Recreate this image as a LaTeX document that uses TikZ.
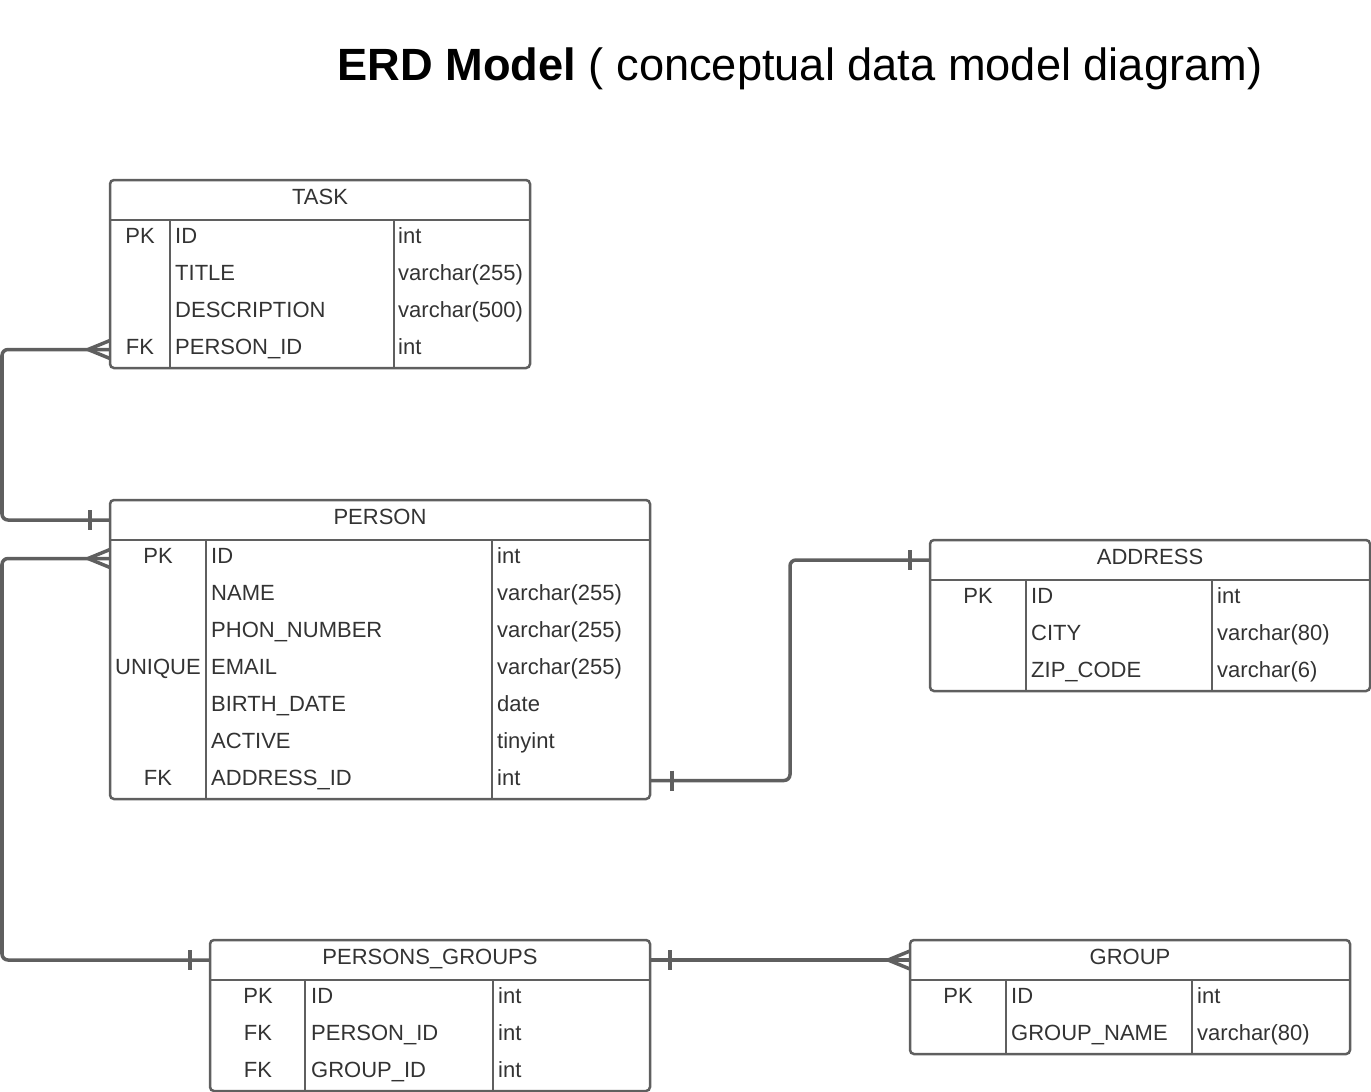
\documentclass[tikz,border=0pt]{standalone}
\usepackage{fontspec}
\setmainfont{Liberation Sans}
\usetikzlibrary{calc}

\definecolor{erdline}{HTML}{5F5F5F}
\definecolor{erdtext}{HTML}{333333}

\begin{document}
\begin{tikzpicture}[x=1pt, y=-1pt,
    tbl/.style = {draw=erdline, line width=2.5pt, rounded corners=4pt, inner sep=0pt, outer sep=0pt, anchor=north west},
    grid/.style = {draw=erdline, line width=2.5pt},
    conn/.style = {draw=erdline, line width=3.5pt, rounded corners=6pt},
    txt/.style = {text=erdtext, font=\fontsize{22}{26}\selectfont, inner sep=0pt, text height=16pt, text depth=4pt},
    cell/.style = {txt, anchor=west},
    crow/.pic = {\draw[erdline, line width=3.5pt] (-22,0) -- (0,-9) (-22,0) -- (0,9);},
    bar/.pic = {\draw[erdline, line width=3.5pt] (0,-10) -- (0,10);}]

    \useasboundingbox (0,0) rectangle (1371,1092);

    % title
    \node[font=\fontsize{45.2}{54}\selectfont, anchor=base] (title) at (800,80) {\textbf{ERD Model} ( conceptual data model diagram)};

    % TASK
    \node[tbl, minimum width=420, minimum height=188] (task) at (110,180) {};
    \draw[grid] (110,220) -- (530,220);
    \draw[grid] (170,220) -- (170,368) (394,220) -- (394,368);
    \node[txt] (task-h) at (320,198.5) {TASK};
    \foreach \k/\n/\t [count=\i] in {PK/ID/int, /TITLE/varchar(255), /DESCRIPTION/varchar(500), FK/PERSON\_ID/int} {
        \node[txt] (task-k\i) at (140,200+37*\i) {\k};
        \node[cell] (task-n\i) at (175,200+37*\i) {\n};
        \node[cell] (task-t\i) at (398,200+37*\i) {\t};
    }

    % PERSON
    \node[tbl, minimum width=540, minimum height=299] (person) at (110,500) {};
    \draw[grid] (110,540) -- (650,540);
    \draw[grid] (206,540) -- (206,799) (492,540) -- (492,799);
    \node[txt] (person-h) at (380,518.5) {PERSON};
    \foreach \k/\n/\t [count=\i] in {PK/ID/int, /NAME/varchar(255), /PHON\_NUMBER/varchar(255), UNIQUE/EMAIL/varchar(255),
        /BIRTH\_DATE/date, /ACTIVE/tinyint, FK/ADDRESS\_ID/int} {
        \node[txt] (person-k\i) at (158,520+37*\i) {\k};
        \node[cell] (person-n\i) at (211,520+37*\i) {\n};
        \node[cell] (person-t\i) at (497,520+37*\i) {\t};
    }

    % ADDRESS
    \node[tbl, minimum width=440, minimum height=151] (address) at (930,540) {};
    \draw[grid] (930,580) -- (1370,580);
    \draw[grid] (1026,580) -- (1026,691) (1212,580) -- (1212,691);
    \node[txt] (address-h) at (1150,558.5) {ADDRESS};
    \foreach \k/\n/\t [count=\i] in {PK/ID/int, /CITY/varchar(80), /ZIP\_CODE/varchar(6)} {
        \node[txt] (address-k\i) at (978,560+37*\i) {\k};
        \node[cell] (address-n\i) at (1031,560+37*\i) {\n};
        \node[cell] (address-t\i) at (1217,560+37*\i) {\t};
    }

    % PERSONS_GROUPS
    \node[tbl, minimum width=440, minimum height=151] (pg) at (210,940) {};
    \draw[grid] (210,980) -- (650,980);
    \draw[grid] (305,980) -- (305,1091) (493,980) -- (493,1091);
    \node[txt] (pg-h) at (430,958.5) {PERSONS\_GROUPS};
    \foreach \k/\n/\t [count=\i] in {PK/ID/int, FK/PERSON\_ID/int, FK/GROUP\_ID/int} {
        \node[txt] (pg-k\i) at (258,960+37*\i) {\k};
        \node[cell] (pg-n\i) at (311,960+37*\i) {\n};
        \node[cell] (pg-t\i) at (498,960+37*\i) {\t};
    }

    % GROUP
    \node[tbl, minimum width=440, minimum height=114] (group) at (910,940) {};
    \draw[grid] (910,980) -- (1350,980);
    \draw[grid] (1006,980) -- (1006,1054) (1192,980) -- (1192,1054);
    \node[txt] (group-h) at (1130,958.5) {GROUP};
    \foreach \k/\n/\t [count=\i] in {PK/ID/int, /GROUP\_NAME/varchar(80)} {
        \node[txt] (group-k\i) at (958,960+37*\i) {\k};
        \node[cell] (group-n\i) at (1011,960+37*\i) {\n};
        \node[cell] (group-t\i) at (1197,960+37*\i) {\t};
    }

    % relations
    \draw[conn] ($(task.west |- task-k4)+(0,1.5)$) coordinate (r1) -- ++(-108,0) |- ($(person.west |- person-h)+(0,1.5)$) coordinate (r2);
    \pic at (r1) {crow};
    \pic at ($(r2)+(-20,0)$) {bar};

    \draw[conn] ($(person.west |- person-k1)+(0,1.5)$) coordinate (r3) -- ++(-108,0) |- ($(pg.west |- pg-h)+(0,1.5)$) coordinate (r4);
    \pic at (r3) {crow};
    \pic at ($(r4)+(-20,0)$) {bar};

    \draw[conn] ($(person.east |- person-k7)+(0,1.5)$) coordinate (r5) -- ++(140,0) |- ($(address.west |- address-h)+(0,1.5)$) coordinate (r6);
    \pic at ($(r5)+(22,0)$) {bar};
    \pic at ($(r6)+(-20,0)$) {bar};

    \draw[conn] ($(pg.east |- pg-h)+(0,1.5)$) coordinate (r7) -- ($(group.west |- group-h)+(0,1.5)$) coordinate (r8);
    \pic at ($(r7)+(20,0)$) {bar};
    \pic at (r8) {crow};

\end{tikzpicture}
\end{document}
